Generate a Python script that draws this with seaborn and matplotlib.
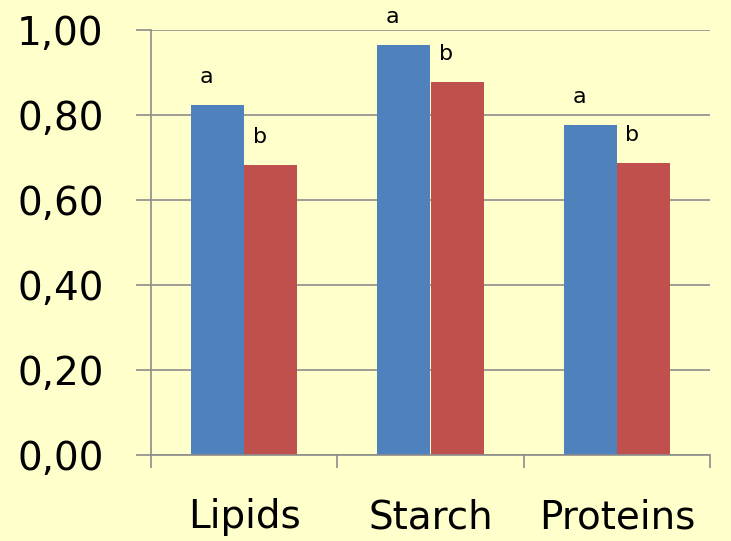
import pandas as pd
import matplotlib.pyplot as plt
import numpy as np
import seaborn as sns

categories = ["Lipids", "Starch", "Proteins"]
series = ["a", "b"]
values_a = [0.823, 0.965, 0.776]
values_b = [0.682, 0.878, 0.688]
yticks = [0.0, 0.2, 0.4, 0.6, 0.8, 1.0]
ytick_labels = ["0,00", "0,20", "0,40", "0,60", "0,80", "1,00"]

df = pd.DataFrame({
    "category": categories * 2,
    "group": ["a"] * 3 + ["b"] * 3,
    "value": values_a + values_b,
})

bg = "#FFFFCC"
grid_col = "#8C8C8C"

fig = plt.figure(figsize=(7.31, 5.41), dpi=100, facecolor=bg)
ax = fig.add_axes([151 / 731, 1 - 455 / 541, (710 - 151) / 731, (455 - 30) / 541])
ax.set_facecolor(bg)

sns.barplot(data=df, x="category", y="value", hue="group", order=categories,
            hue_order=series, palette=["#4F81BD", "#C0504D"], width=0.57,
            gap=0, saturation=1, linewidth=0, legend=False, ax=ax)

ax.set_ylim(0, 1.0)
ax.set_xlim(-0.5, 2.5)
ax.set_yticks(yticks)
ax.set_yticklabels(ytick_labels, fontsize=28)
ax.tick_params(axis="y", length=11, width=1.2, color=grid_col, pad=23)
ax.yaxis.grid(True, color=grid_col, linewidth=1.2)
ax.set_axisbelow(True)

ax.set_xticks([0, 1, 2])
ax.set_xticklabels(categories, fontsize=28)
ax.tick_params(axis="x", which="major", length=0, pad=31)
ax.set_xticks([-0.5, 0.5, 1.5, 2.5], minor=True)
ax.tick_params(axis="x", which="minor", length=9, width=1.2, color=grid_col)

for side in ["top", "right"]:
    ax.spines[side].set_visible(False)
for side in ["left", "bottom"]:
    ax.spines[side].set_color(grid_col)
    ax.spines[side].set_linewidth(1.2)

ax.set_xlabel("")
ax.set_ylabel("")

# significance letters above each bar
for patch, letter in zip(ax.patches, ["a"] * 3 + ["b"] * 3):
    x = patch.get_x() + patch.get_width() / 2
    y = patch.get_height()
    ax.annotate(letter, (x, y), xytext=(-8, 20), textcoords="offset points",
                ha="center", va="center", fontsize=16, annotation_clip=False)

fig.savefig("out.png", dpi=100, facecolor=bg)
